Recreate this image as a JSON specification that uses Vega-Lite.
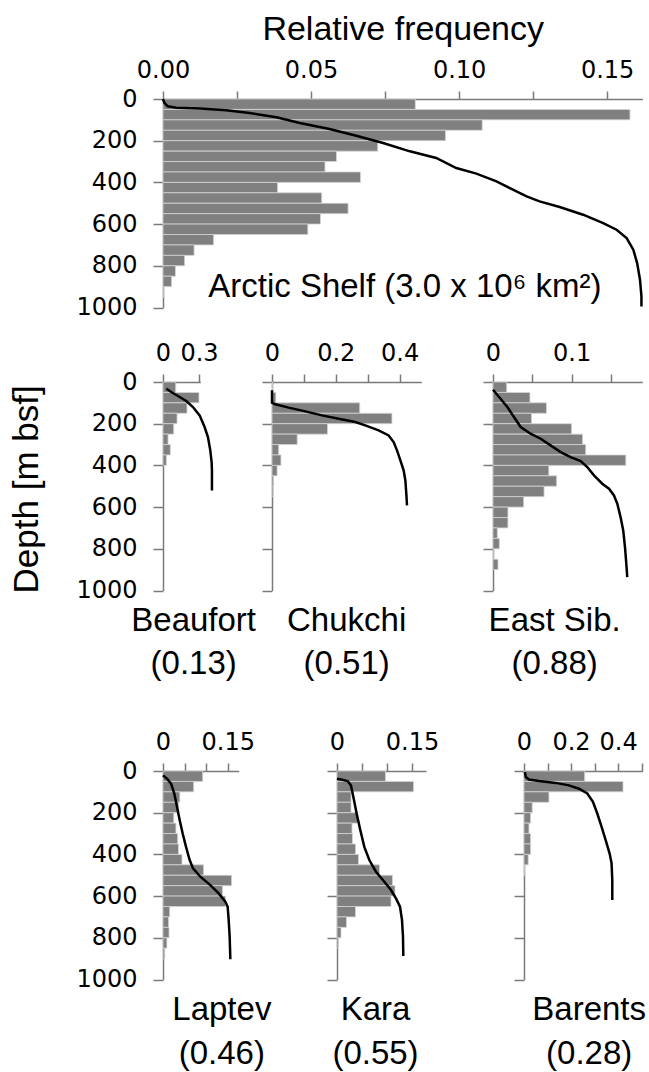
{
  "$schema": "https://vega.github.io/schema/vega-lite/v6.json",
  "padding": {"left": 9, "top": 12, "right": 0, "bottom": 0},
  "title": {"text": "Depth [m bsf]", "orient": "left", "anchor": "middle", "fontSize": 35, "dx": 52, "offset": 31},
  "datasets": {
    "bars": [
      {"p": "Arctic", "d0": 0, "d1": 50, "f": 0.0852}, {"p": "Arctic", "d0": 50, "d1": 100, "f": 0.1577}, {"p": "Arctic", "d0": 100, "d1": 150, "f": 0.1078}, {"p": "Arctic", "d0": 150, "d1": 200, "f": 0.0954}, {"p": "Arctic", "d0": 200, "d1": 250, "f": 0.0725}, {"p": "Arctic", "d0": 250, "d1": 300, "f": 0.0586}, {"p": "Arctic", "d0": 300, "d1": 350, "f": 0.0547}, {"p": "Arctic", "d0": 350, "d1": 400, "f": 0.0667}, {"p": "Arctic", "d0": 400, "d1": 450, "f": 0.0387}, {"p": "Arctic", "d0": 450, "d1": 500, "f": 0.0536}, {"p": "Arctic", "d0": 500, "d1": 550, "f": 0.0625}, {"p": "Arctic", "d0": 550, "d1": 600, "f": 0.0532}, {"p": "Arctic", "d0": 600, "d1": 650, "f": 0.0489}, {"p": "Arctic", "d0": 650, "d1": 700, "f": 0.0171}, {"p": "Arctic", "d0": 700, "d1": 750, "f": 0.0105}, {"p": "Arctic", "d0": 750, "d1": 800, "f": 0.0073}, {"p": "Arctic", "d0": 800, "d1": 850, "f": 0.0042}, {"p": "Arctic", "d0": 850, "d1": 900, "f": 0.0029}, {"p": "Arctic", "d0": 900, "d1": 950, "f": 0.0003},
      {"p": "Beaufort", "d0": 0, "d1": 50, "f": 0.106}, {"p": "Beaufort", "d0": 50, "d1": 100, "f": 0.3}, {"p": "Beaufort", "d0": 100, "d1": 150, "f": 0.2}, {"p": "Beaufort", "d0": 150, "d1": 200, "f": 0.117}, {"p": "Beaufort", "d0": 200, "d1": 250, "f": 0.089}, {"p": "Beaufort", "d0": 250, "d1": 300, "f": 0.042}, {"p": "Beaufort", "d0": 300, "d1": 350, "f": 0.061}, {"p": "Beaufort", "d0": 350, "d1": 400, "f": 0.028},
      {"p": "Chukchi", "d0": 0, "d1": 50, "f": 0.002}, {"p": "Chukchi", "d0": 50, "d1": 100, "f": 0.012}, {"p": "Chukchi", "d0": 100, "d1": 150, "f": 0.275}, {"p": "Chukchi", "d0": 150, "d1": 200, "f": 0.376}, {"p": "Chukchi", "d0": 200, "d1": 250, "f": 0.174}, {"p": "Chukchi", "d0": 250, "d1": 300, "f": 0.079}, {"p": "Chukchi", "d0": 300, "d1": 350, "f": 0.021}, {"p": "Chukchi", "d0": 350, "d1": 400, "f": 0.028}, {"p": "Chukchi", "d0": 400, "d1": 450, "f": 0.016}, {"p": "Chukchi", "d0": 450, "d1": 500, "f": 0.005}, {"p": "Chukchi", "d0": 500, "d1": 550, "f": 0.004},
      {"p": "EastSib", "d0": 0, "d1": 50, "f": 0.0174}, {"p": "EastSib", "d0": 50, "d1": 100, "f": 0.047}, {"p": "EastSib", "d0": 100, "d1": 150, "f": 0.068}, {"p": "EastSib", "d0": 150, "d1": 200, "f": 0.049}, {"p": "EastSib", "d0": 200, "d1": 250, "f": 0.1}, {"p": "EastSib", "d0": 250, "d1": 300, "f": 0.114}, {"p": "EastSib", "d0": 300, "d1": 350, "f": 0.118}, {"p": "EastSib", "d0": 350, "d1": 400, "f": 0.169}, {"p": "EastSib", "d0": 400, "d1": 450, "f": 0.071}, {"p": "EastSib", "d0": 450, "d1": 500, "f": 0.081}, {"p": "EastSib", "d0": 500, "d1": 550, "f": 0.065}, {"p": "EastSib", "d0": 550, "d1": 600, "f": 0.039}, {"p": "EastSib", "d0": 600, "d1": 650, "f": 0.019}, {"p": "EastSib", "d0": 650, "d1": 700, "f": 0.019}, {"p": "EastSib", "d0": 700, "d1": 750, "f": 0.0055}, {"p": "EastSib", "d0": 750, "d1": 800, "f": 0.008}, {"p": "EastSib", "d0": 800, "d1": 850, "f": 0.001}, {"p": "EastSib", "d0": 850, "d1": 900, "f": 0.0064},
      {"p": "Laptev", "d0": 0, "d1": 50, "f": 0.092}, {"p": "Laptev", "d0": 50, "d1": 100, "f": 0.071}, {"p": "Laptev", "d0": 100, "d1": 150, "f": 0.039}, {"p": "Laptev", "d0": 150, "d1": 200, "f": 0.036}, {"p": "Laptev", "d0": 200, "d1": 250, "f": 0.025}, {"p": "Laptev", "d0": 250, "d1": 300, "f": 0.03}, {"p": "Laptev", "d0": 300, "d1": 350, "f": 0.034}, {"p": "Laptev", "d0": 350, "d1": 400, "f": 0.036}, {"p": "Laptev", "d0": 400, "d1": 450, "f": 0.044}, {"p": "Laptev", "d0": 450, "d1": 500, "f": 0.094}, {"p": "Laptev", "d0": 500, "d1": 550, "f": 0.159}, {"p": "Laptev", "d0": 550, "d1": 600, "f": 0.138}, {"p": "Laptev", "d0": 600, "d1": 650, "f": 0.145}, {"p": "Laptev", "d0": 650, "d1": 700, "f": 0.0155}, {"p": "Laptev", "d0": 700, "d1": 750, "f": 0.013}, {"p": "Laptev", "d0": 750, "d1": 800, "f": 0.014}, {"p": "Laptev", "d0": 800, "d1": 850, "f": 0.009}, {"p": "Laptev", "d0": 850, "d1": 900, "f": 0.004},
      {"p": "Kara", "d0": 0, "d1": 50, "f": 0.097}, {"p": "Kara", "d0": 50, "d1": 100, "f": 0.153}, {"p": "Kara", "d0": 100, "d1": 150, "f": 0.028}, {"p": "Kara", "d0": 150, "d1": 200, "f": 0.028}, {"p": "Kara", "d0": 200, "d1": 250, "f": 0.041}, {"p": "Kara", "d0": 250, "d1": 300, "f": 0.03}, {"p": "Kara", "d0": 300, "d1": 350, "f": 0.031}, {"p": "Kara", "d0": 350, "d1": 400, "f": 0.037}, {"p": "Kara", "d0": 400, "d1": 450, "f": 0.043}, {"p": "Kara", "d0": 450, "d1": 500, "f": 0.085}, {"p": "Kara", "d0": 500, "d1": 550, "f": 0.111}, {"p": "Kara", "d0": 550, "d1": 600, "f": 0.116}, {"p": "Kara", "d0": 600, "d1": 650, "f": 0.108}, {"p": "Kara", "d0": 650, "d1": 700, "f": 0.037}, {"p": "Kara", "d0": 700, "d1": 750, "f": 0.019}, {"p": "Kara", "d0": 750, "d1": 800, "f": 0.008}, {"p": "Kara", "d0": 800, "d1": 850, "f": 0.003},
      {"p": "Barents", "d0": 0, "d1": 50, "f": 0.258}, {"p": "Barents", "d0": 50, "d1": 100, "f": 0.421}, {"p": "Barents", "d0": 100, "d1": 150, "f": 0.106}, {"p": "Barents", "d0": 150, "d1": 200, "f": 0.035}, {"p": "Barents", "d0": 200, "d1": 250, "f": 0.028}, {"p": "Barents", "d0": 250, "d1": 300, "f": 0.021}, {"p": "Barents", "d0": 300, "d1": 350, "f": 0.028}, {"p": "Barents", "d0": 350, "d1": 400, "f": 0.028}, {"p": "Barents", "d0": 400, "d1": 450, "f": 0.018}, {"p": "Barents", "d0": 450, "d1": 500, "f": 0.003}
    ],
    "curves": [
      {"p": "Arctic", "frac": 0, "d0": 0}, {"p": "Arctic", "frac": 0.003, "d0": 19}, {"p": "Arctic", "frac": 0.01, "d0": 35}, {"p": "Arctic", "frac": 0.028, "d0": 42}, {"p": "Arctic", "frac": 0.077, "d0": 46}, {"p": "Arctic", "frac": 0.132, "d0": 54}, {"p": "Arctic", "frac": 0.181, "d0": 67}, {"p": "Arctic", "frac": 0.237, "d0": 88}, {"p": "Arctic", "frac": 0.286, "d0": 115}, {"p": "Arctic", "frac": 0.348, "d0": 144}, {"p": "Arctic", "frac": 0.404, "d0": 176}, {"p": "Arctic", "frac": 0.46, "d0": 211}, {"p": "Arctic", "frac": 0.516, "d0": 251}, {"p": "Arctic", "frac": 0.571, "d0": 283}, {"p": "Arctic", "frac": 0.613, "d0": 331}, {"p": "Arctic", "frac": 0.655, "d0": 358}, {"p": "Arctic", "frac": 0.697, "d0": 395}, {"p": "Arctic", "frac": 0.725, "d0": 427}, {"p": "Arctic", "frac": 0.76, "d0": 467}, {"p": "Arctic", "frac": 0.787, "d0": 491}, {"p": "Arctic", "frac": 0.829, "d0": 518}, {"p": "Arctic", "frac": 0.878, "d0": 555}, {"p": "Arctic", "frac": 0.92, "d0": 595}, {"p": "Arctic", "frac": 0.948, "d0": 627}, {"p": "Arctic", "frac": 0.969, "d0": 667}, {"p": "Arctic", "frac": 0.983, "d0": 723}, {"p": "Arctic", "frac": 0.991, "d0": 787}, {"p": "Arctic", "frac": 0.997, "d0": 867}, {"p": "Arctic", "frac": 1.0, "d0": 947}, {"p": "Arctic", "frac": 1.0, "d0": 995},
      {"p": "Beaufort", "frac": 0.068, "d0": 32}, {"p": "Beaufort", "frac": 0.17, "d0": 48}, {"p": "Beaufort", "frac": 0.34, "d0": 72}, {"p": "Beaufort", "frac": 0.476, "d0": 91}, {"p": "Beaufort", "frac": 0.612, "d0": 120}, {"p": "Beaufort", "frac": 0.748, "d0": 160}, {"p": "Beaufort", "frac": 0.85, "d0": 216}, {"p": "Beaufort", "frac": 0.918, "d0": 264}, {"p": "Beaufort", "frac": 0.966, "d0": 328}, {"p": "Beaufort", "frac": 0.993, "d0": 384}, {"p": "Beaufort", "frac": 1.0, "d0": 424}, {"p": "Beaufort", "frac": 1.0, "d0": 520},
      {"p": "Chukchi", "frac": 0, "d0": 40}, {"p": "Chukchi", "frac": 0, "d0": 99}, {"p": "Chukchi", "frac": 0.025, "d0": 107}, {"p": "Chukchi", "frac": 0.123, "d0": 123}, {"p": "Chukchi", "frac": 0.247, "d0": 141}, {"p": "Chukchi", "frac": 0.37, "d0": 160}, {"p": "Chukchi", "frac": 0.494, "d0": 176}, {"p": "Chukchi", "frac": 0.617, "d0": 192}, {"p": "Chukchi", "frac": 0.691, "d0": 208}, {"p": "Chukchi", "frac": 0.79, "d0": 232}, {"p": "Chukchi", "frac": 0.864, "d0": 256}, {"p": "Chukchi", "frac": 0.901, "d0": 288}, {"p": "Chukchi", "frac": 0.926, "d0": 328}, {"p": "Chukchi", "frac": 0.951, "d0": 376}, {"p": "Chukchi", "frac": 0.975, "d0": 424}, {"p": "Chukchi", "frac": 0.988, "d0": 472}, {"p": "Chukchi", "frac": 0.995, "d0": 536}, {"p": "Chukchi", "frac": 1.0, "d0": 592},
      {"p": "EastSib", "frac": 0, "d0": 37}, {"p": "EastSib", "frac": 0.045, "d0": 72}, {"p": "EastSib", "frac": 0.107, "d0": 120}, {"p": "EastSib", "frac": 0.156, "d0": 168}, {"p": "EastSib", "frac": 0.206, "d0": 216}, {"p": "EastSib", "frac": 0.28, "d0": 248}, {"p": "EastSib", "frac": 0.355, "d0": 272}, {"p": "EastSib", "frac": 0.429, "d0": 304}, {"p": "EastSib", "frac": 0.504, "d0": 336}, {"p": "EastSib", "frac": 0.578, "d0": 360}, {"p": "EastSib", "frac": 0.653, "d0": 379}, {"p": "EastSib", "frac": 0.702, "d0": 408}, {"p": "EastSib", "frac": 0.752, "d0": 448}, {"p": "EastSib", "frac": 0.814, "d0": 488}, {"p": "EastSib", "frac": 0.864, "d0": 512}, {"p": "EastSib", "frac": 0.901, "d0": 544}, {"p": "EastSib", "frac": 0.926, "d0": 584}, {"p": "EastSib", "frac": 0.95, "d0": 648}, {"p": "EastSib", "frac": 0.97, "d0": 712}, {"p": "EastSib", "frac": 0.983, "d0": 792}, {"p": "EastSib", "frac": 0.993, "d0": 872}, {"p": "EastSib", "frac": 1.0, "d0": 936},
      {"p": "Laptev", "frac": 0, "d0": 21}, {"p": "Laptev", "frac": 0.059, "d0": 37}, {"p": "Laptev", "frac": 0.119, "d0": 61}, {"p": "Laptev", "frac": 0.168, "d0": 108}, {"p": "Laptev", "frac": 0.208, "d0": 172}, {"p": "Laptev", "frac": 0.248, "d0": 236}, {"p": "Laptev", "frac": 0.292, "d0": 300}, {"p": "Laptev", "frac": 0.342, "d0": 364}, {"p": "Laptev", "frac": 0.396, "d0": 427}, {"p": "Laptev", "frac": 0.446, "d0": 467}, {"p": "Laptev", "frac": 0.554, "d0": 507}, {"p": "Laptev", "frac": 0.703, "d0": 547}, {"p": "Laptev", "frac": 0.827, "d0": 587}, {"p": "Laptev", "frac": 0.926, "d0": 627}, {"p": "Laptev", "frac": 0.96, "d0": 651}, {"p": "Laptev", "frac": 0.975, "d0": 714}, {"p": "Laptev", "frac": 0.99, "d0": 794}, {"p": "Laptev", "frac": 1.0, "d0": 903},
      {"p": "Kara", "frac": 0, "d0": 37}, {"p": "Kara", "frac": 0.06, "d0": 41}, {"p": "Kara", "frac": 0.16, "d0": 48}, {"p": "Kara", "frac": 0.21, "d0": 69}, {"p": "Kara", "frac": 0.246, "d0": 124}, {"p": "Kara", "frac": 0.296, "d0": 204}, {"p": "Kara", "frac": 0.352, "d0": 284}, {"p": "Kara", "frac": 0.412, "d0": 364}, {"p": "Kara", "frac": 0.487, "d0": 427}, {"p": "Kara", "frac": 0.588, "d0": 483}, {"p": "Kara", "frac": 0.714, "d0": 531}, {"p": "Kara", "frac": 0.814, "d0": 571}, {"p": "Kara", "frac": 0.889, "d0": 611}, {"p": "Kara", "frac": 0.95, "d0": 651}, {"p": "Kara", "frac": 0.98, "d0": 714}, {"p": "Kara", "frac": 0.995, "d0": 794}, {"p": "Kara", "frac": 1.0, "d0": 887},
      {"p": "Barents", "frac": 0.01, "d0": 5}, {"p": "Barents", "frac": 0.02, "d0": 29}, {"p": "Barents", "frac": 0.057, "d0": 41}, {"p": "Barents", "frac": 0.17, "d0": 48}, {"p": "Barents", "frac": 0.358, "d0": 57}, {"p": "Barents", "frac": 0.509, "d0": 69}, {"p": "Barents", "frac": 0.623, "d0": 85}, {"p": "Barents", "frac": 0.717, "d0": 108}, {"p": "Barents", "frac": 0.781, "d0": 148}, {"p": "Barents", "frac": 0.83, "d0": 204}, {"p": "Barents", "frac": 0.879, "d0": 268}, {"p": "Barents", "frac": 0.925, "d0": 332}, {"p": "Barents", "frac": 0.97, "d0": 396}, {"p": "Barents", "frac": 0.992, "d0": 443}, {"p": "Barents", "frac": 1.0, "d0": 523}, {"p": "Barents", "frac": 1.0, "d0": 619}
    ]
  },
  "vconcat": [
    {
      "vconcat": [
        {
          "width": 479.4, "height": 208.5,
          "title": {"text": "Arctic Shelf (3.0 x 10⁶ km²)", "orient": "bottom", "anchor": "end", "frame": "group", "offset": -49, "dx": -41},
          "encoding": {"y": {"field": "d0", "type": "quantitative", "scale": {"domain": [0, 1000], "reverse": true, "nice": false}, "axis": {"values": [0, 200, 400, 600, 800, 1000], "format": "d", "title": null}}},
          "layer": [
            {"data": {"name": "bars"}, "transform": [{"filter": "datum.p == 'Arctic'"}],
             "mark": {"type": "rect", "color": "#808080", "stroke": "#d4d4d4", "strokeWidth": 0.8},
             "encoding": {
               "x": {"field": "f", "type": "quantitative", "scale": {"domain": [0, 0.1619], "nice": false}, "axis": {"orient": "top", "values": [0, 0.025, 0.05, 0.075, 0.1, 0.125, 0.15], "labelExpr": "round(datum.value*40) % 2 == 0 ? format(datum.value, '.2f') : ''", "title": "Relative frequency", "titleFontSize": 34, "titlePadding": 12}},
               "x2": {"datum": 0},
               "y2": {"field": "d1"}
             }},
            {"data": {"name": "curves"}, "transform": [{"filter": "datum.p == 'Arctic'"}],
             "mark": {"type": "line", "color": "#000", "strokeWidth": 2.5},
             "encoding": {
               "x": {"field": "frac", "type": "quantitative", "scale": {"domain": [0, 1.002], "nice": false}, "axis": null},
               "order": {"field": "d0", "type": "quantitative"}
             }}
          ],
          "resolve": {"scale": {"x": "independent"}}
        },
        {
          "hconcat": [
            {
              "width": 37.3, "height": 208.5,
              "title": {"text": ["Beaufort", "(0.13)"], "orient": "bottom", "anchor": "middle", "frame": "group", "offset": 2, "dx": 12, "lineHeight": 43},
              "encoding": {"y": {"field": "d0", "type": "quantitative", "scale": {"domain": [0, 1000], "reverse": true, "nice": false}, "axis": {"values": [0, 200, 400, 600, 800, 1000], "format": "d", "title": null}}},
              "layer": [
                {"data": {"name": "bars"}, "transform": [{"filter": "datum.p == 'Beaufort'"}],
                 "mark": {"type": "rect", "color": "#808080", "stroke": "#d4d4d4", "strokeWidth": 0.8},
                 "encoding": {
                   "x": {"field": "f", "type": "quantitative", "scale": {"domain": [0, 0.311], "nice": false}, "axis": {"orient": "top", "values": [0, 0.3], "labelExpr": "format(datum.value, '~g')", "title": null}},
                   "x2": {"datum": 0},
                   "y2": {"field": "d1"}
                 }},
                {"data": {"name": "curves"}, "transform": [{"filter": "datum.p == 'Beaufort'"}],
                 "mark": {"type": "line", "color": "#000", "strokeWidth": 2.5},
                 "encoding": {
                   "x": {"field": "frac", "type": "quantitative", "scale": {"domain": [0, 0.762], "nice": false}, "axis": null},
                   "order": {"field": "d0", "type": "quantitative"}
                 }}
              ],
              "resolve": {"scale": {"x": "independent"}}
            },
            {
              "width": 149.3, "height": 208.5,
              "title": {"text": ["Chukchi", "(0.51)"], "orient": "bottom", "anchor": "middle", "frame": "group", "offset": 13, "dx": 0, "lineHeight": 43},
              "encoding": {"y": {"field": "d0", "type": "quantitative", "scale": {"domain": [0, 1000], "reverse": true, "nice": false}, "axis": {"values": [0, 200, 400, 600, 800, 1000], "labels": false, "title": null}}},
              "layer": [
                {"data": {"name": "bars"}, "transform": [{"filter": "datum.p == 'Chukchi'"}],
                 "mark": {"type": "rect", "color": "#808080", "stroke": "#d4d4d4", "strokeWidth": 0.8},
                 "encoding": {
                   "x": {"field": "f", "type": "quantitative", "scale": {"domain": [0, 0.468], "nice": false}, "axis": {"orient": "top", "values": [0, 0.1, 0.2, 0.3, 0.4], "labelExpr": "round(datum.value*10) % 2 == 0 ? format(datum.value, '~g') : ''", "title": null}},
                   "x2": {"datum": 0},
                   "y2": {"field": "d1"}
                 }},
                {"data": {"name": "curves"}, "transform": [{"filter": "datum.p == 'Chukchi'"}],
                 "mark": {"type": "line", "color": "#000", "strokeWidth": 2.5},
                 "encoding": {
                   "x": {"field": "frac", "type": "quantitative", "scale": {"domain": [0, 1.106], "nice": false}, "axis": null},
                   "order": {"field": "d0", "type": "quantitative"}
                 }}
              ],
              "resolve": {"scale": {"x": "independent"}}
            },
            {
              "width": 149.3, "height": 208.5,
              "title": {"text": ["East Sib.", "(0.88)"], "orient": "bottom", "anchor": "middle", "frame": "group", "offset": 13, "dx": -13, "lineHeight": 43},
              "encoding": {"y": {"field": "d0", "type": "quantitative", "scale": {"domain": [0, 1000], "reverse": true, "nice": false}, "axis": {"values": [0, 200, 400, 600, 800, 1000], "labels": false, "title": null}}},
              "layer": [
                {"data": {"name": "bars"}, "transform": [{"filter": "datum.p == 'EastSib'"}],
                 "mark": {"type": "rect", "color": "#808080", "stroke": "#d4d4d4", "strokeWidth": 0.8},
                 "encoding": {
                   "x": {"field": "f", "type": "quantitative", "scale": {"domain": [0, 0.19], "nice": false}, "axis": {"orient": "top", "values": [0, 0.05, 0.1, 0.15], "labelExpr": "round(datum.value*20) % 2 == 0 ? format(datum.value, '~g') : ''", "title": null}},
                   "x2": {"datum": 0},
                   "y2": {"field": "d1"}
                 }},
                {"data": {"name": "curves"}, "transform": [{"filter": "datum.p == 'EastSib'"}],
                 "mark": {"type": "line", "color": "#000", "strokeWidth": 2.5},
                 "encoding": {
                   "x": {"field": "frac", "type": "quantitative", "scale": {"domain": [0, 1.112], "nice": false}, "axis": null},
                   "order": {"field": "d0", "type": "quantitative"}
                 }}
              ],
              "resolve": {"scale": {"x": "independent"}}
            }
          ],
          "spacing": 71,
          "bounds": "flush"
        }
      ],
      "spacing": 21
    },
    {
      "hconcat": [
        {
          "width": 75.7, "height": 208.5,
          "title": {"text": ["Laptev", "(0.46)"], "orient": "bottom", "anchor": "middle", "frame": "group", "offset": 2, "dx": 21, "lineHeight": 44},
          "encoding": {"y": {"field": "d0", "type": "quantitative", "scale": {"domain": [0, 1000], "reverse": true, "nice": false}, "axis": {"values": [0, 200, 400, 600, 800, 1000], "format": "d", "title": null}}},
          "layer": [
            {"data": {"name": "bars"}, "transform": [{"filter": "datum.p == 'Laptev'"}],
             "mark": {"type": "rect", "color": "#808080", "stroke": "#d4d4d4", "strokeWidth": 0.8},
             "encoding": {
               "x": {"field": "f", "type": "quantitative", "scale": {"domain": [0, 0.1755], "nice": false}, "axis": {"orient": "top", "values": [0, 0.05, 0.1, 0.15], "labelExpr": "datum.value == 0 || round(datum.value*100) == 15 ? format(datum.value, '~g') : ''", "title": null}},
               "x2": {"datum": 0},
               "y2": {"field": "d1"}
             }},
            {"data": {"name": "curves"}, "transform": [{"filter": "datum.p == 'Laptev'"}],
             "mark": {"type": "line", "color": "#000", "strokeWidth": 2.5},
             "encoding": {
               "x": {"field": "frac", "type": "quantitative", "scale": {"domain": [0, 1.124], "nice": false}, "axis": null},
               "order": {"field": "d0", "type": "quantitative"}
             }}
          ],
          "resolve": {"scale": {"x": "independent"}}
        },
        {
          "width": 89, "height": 208.5,
          "title": {"text": ["Kara", "(0.55)"], "orient": "bottom", "anchor": "middle", "frame": "group", "offset": 13, "dx": -6, "lineHeight": 44},
          "encoding": {"y": {"field": "d0", "type": "quantitative", "scale": {"domain": [0, 1000], "reverse": true, "nice": false}, "axis": {"values": [0, 200, 400, 600, 800, 1000], "labels": false, "title": null}}},
          "layer": [
            {"data": {"name": "bars"}, "transform": [{"filter": "datum.p == 'Kara'"}],
             "mark": {"type": "rect", "color": "#808080", "stroke": "#d4d4d4", "strokeWidth": 0.8},
             "encoding": {
               "x": {"field": "f", "type": "quantitative", "scale": {"domain": [0, 0.178], "nice": false}, "axis": {"orient": "top", "values": [0, 0.05, 0.1, 0.15], "labelExpr": "datum.value == 0 || round(datum.value*100) == 15 ? format(datum.value, '~g') : ''", "title": null}},
               "x2": {"datum": 0},
               "y2": {"field": "d1"}
             }},
            {"data": {"name": "curves"}, "transform": [{"filter": "datum.p == 'Kara'"}],
             "mark": {"type": "line", "color": "#000", "strokeWidth": 2.5},
             "encoding": {
               "x": {"field": "frac", "type": "quantitative", "scale": {"domain": [0, 1.342], "nice": false}, "axis": null},
               "order": {"field": "d0", "type": "quantitative"}
             }}
          ],
          "resolve": {"scale": {"x": "independent"}}
        },
        {
          "width": 118.3, "height": 208.5,
          "title": {"text": ["Barents", "(0.28)"], "orient": "bottom", "anchor": "middle", "frame": "group", "offset": 13, "dx": 6, "lineHeight": 44},
          "encoding": {"y": {"field": "d0", "type": "quantitative", "scale": {"domain": [0, 1000], "reverse": true, "nice": false}, "axis": {"values": [0, 200, 400, 600, 800, 1000], "labels": false, "title": null}}},
          "layer": [
            {"data": {"name": "bars"}, "transform": [{"filter": "datum.p == 'Barents'"}],
             "mark": {"type": "rect", "color": "#808080", "stroke": "#d4d4d4", "strokeWidth": 0.8},
             "encoding": {
               "x": {"field": "f", "type": "quantitative", "scale": {"domain": [0, 0.503], "nice": false}, "axis": {"orient": "top", "values": [0, 0.1, 0.2, 0.3, 0.4, 0.5], "labelExpr": "round(datum.value*10) % 2 == 0 ? format(datum.value, '~g') : ''", "title": null}},
               "x2": {"datum": 0},
               "y2": {"field": "d1"}
             }},
            {"data": {"name": "curves"}, "transform": [{"filter": "datum.p == 'Barents'"}],
             "mark": {"type": "line", "color": "#000", "strokeWidth": 2.5},
             "encoding": {
               "x": {"field": "frac", "type": "quantitative", "scale": {"domain": [0, 1.34], "nice": false}, "axis": null},
               "order": {"field": "d0", "type": "quantitative"}
             }}
          ],
          "resolve": {"scale": {"x": "independent"}}
        }
      ],
      "spacing": 98,
      "bounds": "flush"
    }
  ],
  "spacing": 49,
  "config": {
    "view": {"stroke": null},
    "axis": {"domainColor": "#7a7a7a", "tickColor": "#7a7a7a", "domainWidth": 1.5, "tickWidth": 1.5, "labelFont": "DejaVu Sans", "labelFontSize": 24, "labelColor": "#000", "grid": false, "labelOverlap": false, "titleFont": "Liberation Sans", "titleFontWeight": "normal", "titleColor": "#000"},
    "axisX": {"tickSize": 8, "labelPadding": 9, "labelFlush": false, "labelDx": -3},
    "axisY": {"tickSize": 10, "labelPadding": 16},
    "title": {"font": "Liberation Sans", "fontSize": 33, "fontWeight": "normal", "color": "#000"}
  }
}
